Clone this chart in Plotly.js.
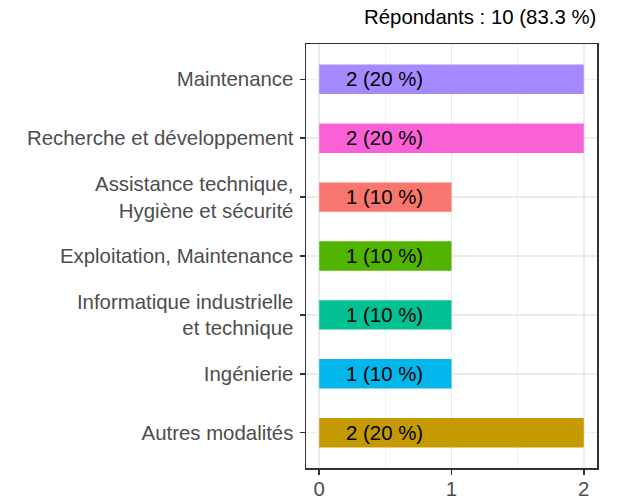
<!DOCTYPE html>
<html>
<head>
<meta charset="utf-8">
<script src="https://cdn.plot.ly/plotly-3.0.1.min.js"></script>
<style>html,body{margin:0;padding:0;background:#fff;}#chart{width:618px;height:500px;}</style>
</head>
<body>
<div id="chart"></div>
<script>
const categories = [
  "Maintenance",
  "Recherche et développement",
  "Assistance technique,<br>Hygiène et sécurité",
  "Exploitation, Maintenance",
  "Informatique industrielle<br>et technique",
  "Ingénierie",
  "Autres modalités"
];
const counts = [2, 2, 1, 1, 1, 1, 2];
const labels = ["2 (20 %)", "2 (20 %)", "1 (10 %)", "1 (10 %)", "1 (10 %)", "1 (10 %)", "2 (20 %)"];
const colors = ["#A58AFF", "#FB61D7", "#F8766D", "#53B400", "#00C094", "#00B6EB", "#C49A00"];
const xTicks = [0, 1, 2];
const titleText = "Répondants : 10 (83.3 %)";

const FONT = "Liberation Sans, Arial, sans-serif";
const FS = 20.4;

const bars = {
  type: "bar",
  orientation: "h",
  y: categories,
  x: counts,
  marker: {color: colors, line: {width: 0}},
  width: 0.5,
  hoverinfo: "none",
  showlegend: false
};

const annotations = categories.map((c, i) => ({
  x: 0.49, y: c, xref: "x", yref: "y",
  text: labels[i], showarrow: false,
  xanchor: "center", yanchor: "middle",
  font: {family: FONT, size: FS, color: "#000"}
}));

const layout = {
  width: 618, height: 500,
  margin: {l: 306, r: 21, t: 44, b: 32, pad: 0},
  paper_bgcolor: "#fff", plot_bgcolor: "#fff",
  font: {family: FONT},
  title: {
    text: titleText,
    x: 0.965, xref: "container", xanchor: "right",
    y: 0.966, yref: "container", yanchor: "middle",
    font: {family: FONT, size: FS, color: "#000"}
  },
  xaxis: {
    range: [-0.1, 2.1],
    tickvals: xTicks, ticktext: xTicks.map(String),
    showgrid: true, gridcolor: "#EBEBEB", gridwidth: 1.5,
    minor: {dtick: 0.5, tick0: 0, showgrid: true, gridcolor: "#EBEBEB", gridwidth: 0.8, ticklen: 0},
    zeroline: false,
    showline: true, linecolor: "#333333", linewidth: 1.5, mirror: true,
    ticks: "outside", ticklen: 5, tickwidth: 1.5, tickcolor: "#333333",
    ticklabelstandoff: -3,
    tickfont: {family: FONT, size: FS, color: "#4D4D4D"},
    fixedrange: true
  },
  yaxis: {
    type: "category",
    categoryorder: "array", categoryarray: categories,
    range: [6.6, -0.6],
    showgrid: true, gridcolor: "#EBEBEB", gridwidth: 1.5,
    zeroline: false,
    showline: true, linecolor: "#333333", linewidth: 1.5, mirror: true,
    ticks: "outside", ticklen: 5, tickwidth: 1.5, tickcolor: "#333333",
    ticklabelstandoff: 2,
    tickfont: {family: FONT, size: FS, color: "#4D4D4D"},
    fixedrange: true
  },
  annotations: annotations,
  bargap: 0.5
};

Plotly.newPlot("chart", [bars], layout, {displayModeBar: false, staticPlot: true});
</script>
</body>
</html>
